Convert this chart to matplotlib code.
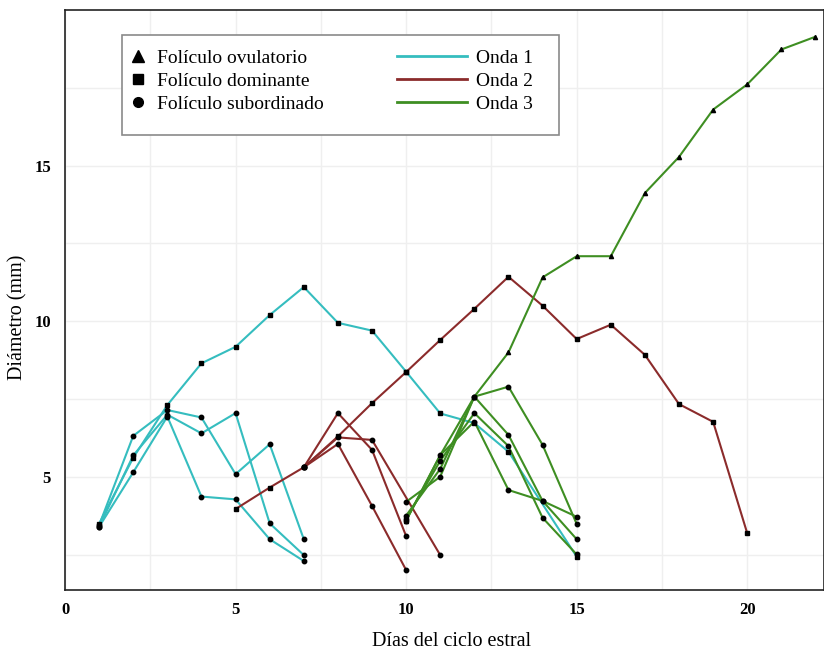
# %% Modules

import numpy as np
import matplotlib
matplotlib.use("Agg")
import matplotlib.pyplot as plt
from matplotlib.lines import Line2D
from matplotlib.patches import Rectangle

# %% Data (día del ciclo, diámetro en mm)

# Onda 1
o1_dom_x = [1, 2, 3, 4, 5, 6, 7, 8, 9, 10, 11, 12, 13, 15]
o1_dom_y = [3.50, 5.62, 7.31, 8.65, 9.18, 10.20, 11.10, 9.95, 9.70, 8.38, 7.04, 6.73, 5.81, 2.44]
o1_sub_x = [1, 2, 3, 4, 5, 6, 7]
o1_sub1_y = [3.45, 6.32, 7.15, 6.91, 5.09, 6.05, 3.00]
o1_sub2_y = [3.40, 5.69, 7.00, 6.40, 7.05, 3.51, 2.49]
o1_sub3_y = [3.40, 5.15, 6.94, 4.37, 4.28, 3.00, 2.30]

# Onda 2
o2_dom_x = [5, 6, 7, 8, 9, 10, 11, 12, 13, 14, 15, 16, 17, 18, 19, 20]
o2_dom_y = [3.97, 4.66, 5.31, 6.30, 7.37, 8.37, 9.40, 10.40, 11.43, 10.50, 9.43, 9.89, 8.92, 7.34, 6.77, 3.19]
o2_sub1_x = [7, 8, 9, 10]
o2_sub1_y = [5.31, 7.05, 5.87, 3.10]
o2_sub2_x = [7, 8, 9, 11]
o2_sub2_y = [5.31, 6.27, 6.19, 2.49]
o2_sub3_x = [7, 8, 9, 10]
o2_sub3_y = [5.31, 6.06, 4.07, 2.01]

# Onda 3
o3_ovu_x = [10, 11, 12, 13, 14, 15, 16, 17, 18, 19, 20, 21, 22]
o3_ovu_y = [3.60, 5.70, 7.58, 9.00, 11.41, 12.09, 12.09, 14.12, 15.28, 16.80, 17.61, 18.73, 19.14]
o3_sub_x = [10, 11, 12, 13, 14, 15]
o3_sub1_y = [4.20, 5.01, 7.58, 7.90, 6.03, 3.49]
o3_sub2_y = [3.76, 5.26, 7.58, 6.35, 4.23, 3.00]
o3_sub3_y = [3.65, 5.52, 7.05, 5.99, 3.69, 2.51]
o3_sub4_y = [3.60, 5.70, 6.78, 4.58, 4.23, 3.72]

# %% Style

plt.rcParams["font.family"] = ["Liberation Serif", "DejaVu Serif"]

c1 = "#35BDBF"
c2 = "#8B2B2B"
c3 = "#3E8E22"
lw = 1.5

fig = plt.figure(figsize = (8.24, 6.54), dpi = 100)
ax = fig.add_axes([0.0789, 0.0979, 0.9211, 0.8869])

def draw(x, y, color, marker, ms):
    ax.plot(x, y, color = color, linewidth = lw, zorder = 3)
    ax.plot(x, y, linestyle = "None", marker = marker, color = "black", markersize = ms, zorder = 4)

# Onda 1
draw(o1_dom_x, o1_dom_y, c1, "s", 2.6)
for yy in [o1_sub1_y, o1_sub2_y, o1_sub3_y]:
    draw(o1_sub_x, yy, c1, "o", 3.2)

# Onda 2
draw(o2_dom_x, o2_dom_y, c2, "s", 2.6)
draw(o2_sub1_x, o2_sub1_y, c2, "o", 3.2)
draw(o2_sub2_x, o2_sub2_y, c2, "o", 3.2)
draw(o2_sub3_x, o2_sub3_y, c2, "o", 3.2)

# Onda 3
draw(o3_ovu_x, o3_ovu_y, c3, "^", 3.0)
for yy in [o3_sub1_y, o3_sub2_y, o3_sub3_y, o3_sub4_y]:
    draw(o3_sub_x, yy, c3, "o", 3.2)

# %% Axes

ax.set_xlim(0, 22.25)
ax.set_ylim(1.37, 20.0)
ax.set_xticks([0, 5, 10, 15, 20])
ax.set_yticks([5, 10, 15])
ax.set_xticks(np.arange(0, 22.5, 2.5), minor = True)
ax.set_yticks(np.arange(2.5, 20, 2.5), minor = True)
ax.grid(which = "both", color = "#EFEFEF", linewidth = 1.0, zorder = 0)
ax.set_axisbelow(True)
ax.tick_params(which = "both", length = 0)
ax.tick_params(axis = "x", pad = 9, labelsize = 12)
ax.tick_params(axis = "y", pad = 10, labelsize = 12)
for lab in ax.get_xticklabels() + ax.get_yticklabels():
    lab.set_fontweight("bold")
for side in ["left", "bottom", "top", "right"]:
    ax.spines[side].set_color("#222222")
    ax.spines[side].set_linewidth(1.2)

ax.set_xlabel("Días del ciclo estral", fontsize = 14.5, va = "center")
ax.set_ylabel("Diámetro (mm)", fontsize = 14.5, va = "center")
ax.xaxis.set_label_coords(0.509, -0.088)
ax.yaxis.set_label_coords(-0.062, 0.47)

# %% Legend

ax.add_patch(Rectangle((0.0752, 0.7845), 0.575, 0.1725, transform = ax.transAxes,
                       facecolor = "white", edgecolor = "#8A8A8A", linewidth = 1.2, zorder = 5))

mk = [
    Line2D([], [], marker = "^", color = "black", linestyle = "None", markersize = 8),
    Line2D([], [], marker = "s", color = "black", linestyle = "None", markersize = 7),
    Line2D([], [], marker = "o", color = "black", linestyle = "None", markersize = 7),
]
leg1 = ax.legend(mk, ["Folículo ovulatorio", "Folículo dominante", "Folículo subordinado"],
                 loc = "upper left", bbox_to_anchor = (0.086, 0.932), frameon = False,
                 handlelength = 0.8, handletextpad = 0.55, labelspacing = 0.28,
                 borderpad = 0, borderaxespad = 0, fontsize = 14)
leg1.set_zorder(6)
ax.add_artist(leg1)

ln = [Line2D([], [], color = c, linewidth = 2) for c in [c1, c2, c3]]
leg2 = ax.legend(ln, ["Onda 1", "Onda 2", "Onda 3"],
                 loc = "upper left", bbox_to_anchor = (0.437, 0.932), frameon = False,
                 handlelength = 3.6, handletextpad = 0.5, labelspacing = 0.28,
                 borderpad = 0, borderaxespad = 0, fontsize = 14)
leg2.set_zorder(6)

plt.savefig("out.png", dpi = 100)
